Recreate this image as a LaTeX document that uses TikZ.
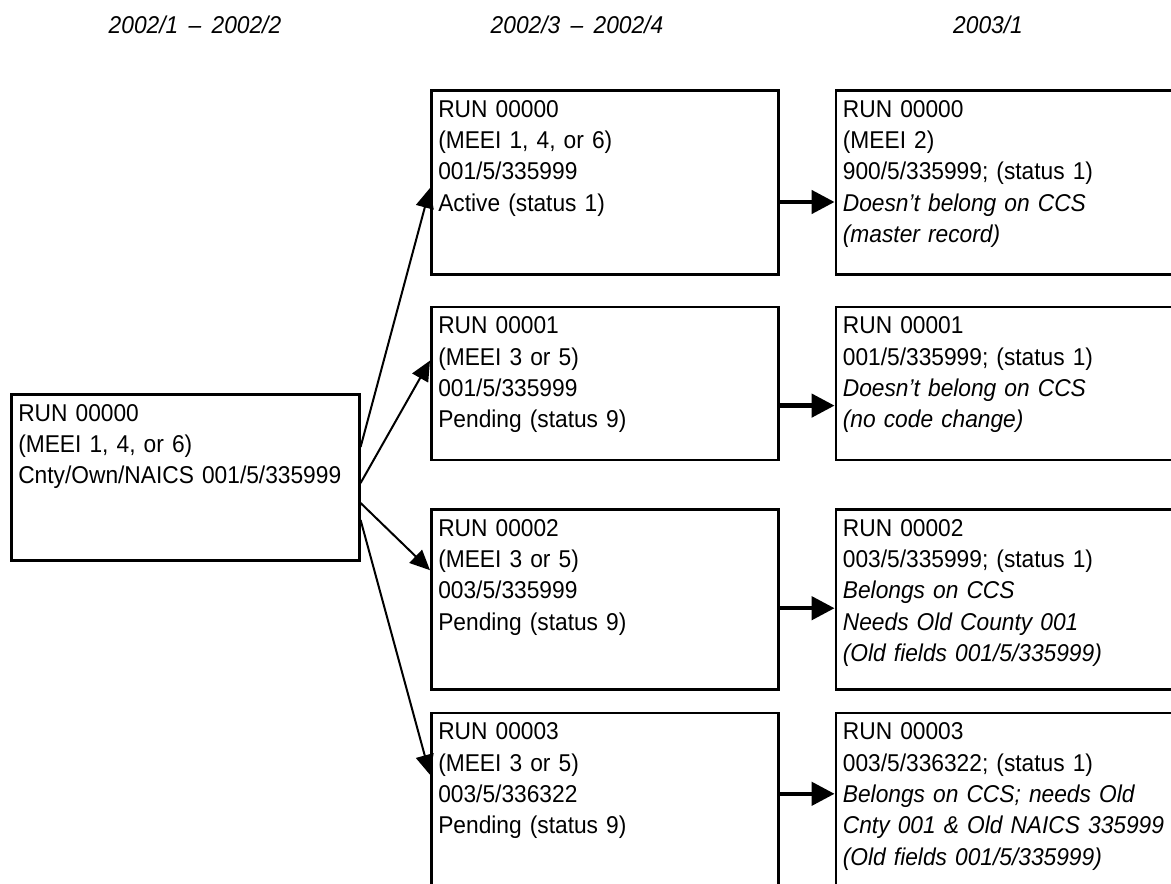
\documentclass[tikz,border=0pt]{standalone}
\usepackage{fontspec}
\setmainfont[FakeStretch=0.936]{Liberation Sans}
\usetikzlibrary{positioning,arrows.meta}

\begin{document}
\begin{tikzpicture}[x=1pt, y=-1pt,
          every node/.style={font=\fontsize{24.3pt}{31.3pt}\selectfont},
          runbox/.style={draw, line width=2.6pt, anchor=north west, align=left,
                         text width=333pt, inner xsep=7pt, inner ysep=0pt,
                         text height=26.8pt, text depth=#1-26.8pt},
          period/.style={font=\fontsize{24.3pt}{31.3pt}\selectfont\itshape},
          fanarr/.style={-{Triangle[length=20pt, width=18pt]}, line width=2pt},
          steparr/.style={-{Triangle[length=23pt, width=23pt]}, line width=4.5pt}]
          \useasboundingbox (0,0) rectangle (1171,884);
          \node[period] (p1) at (195,25) {2002/1 \,--\, 2002/2};
          \node[period] (p2) at (577,25) {2002/3 \,--\, 2002/4};
          \node[period] (p3) at (988,25) {2003/1};
          \node[runbox=166pt, text width=334pt] (r0) at (10,393)
            {RUN 00000\\(MEEI 1, 4, or 6)\\Cnty/Own/NAICS 001/5/335999};
          \node[runbox=184pt] (m1) at (430,89)
            {RUN 00000\\(MEEI 1, 4, or 6)\\001/5/335999\\Active (status 1)};
          \node[runbox=153pt, below=30pt of m1] (m2)
            {RUN 00001\\(MEEI 3 or 5)\\001/5/335999\\Pending (status 9)};
          \node[runbox=180pt, below=47pt of m2] (m3)
            {RUN 00002\\(MEEI 3 or 5)\\003/5/335999\\Pending (status 9)};
          \node[runbox=200pt, below=21pt of m3] (m4)
            {RUN 00003\\(MEEI 3 or 5)\\003/5/336322\\Pending (status 9)};
          \node[runbox=184pt, right=55pt of m1] (n1)
            {RUN 00000\\(MEEI 2)\\900/5/335999; (status 1)\\\textit{Doesn't belong on CCS}\\\textit{(master record)}};
          \node[runbox=153pt, right=55pt of m2] (n2)
            {RUN 00001\\001/5/335999; (status 1)\\\textit{Doesn't belong on CCS}\\\textit{(no code change)}};
          \node[runbox=180pt, right=55pt of m3] (n3)
            {RUN 00002\\003/5/335999; (status 1)\\\textit{Belongs on CCS}\\\textit{Needs Old County 001}\\\textit{(Old fields 001/5/335999)}};
          \node[runbox=200pt, right=55pt of m4] (n4)
            {RUN 00003\\003/5/336322; (status 1)\\\textit{Belongs on CCS; needs Old}\\\textit{Cnty 001 \& Old NAICS 335999}\\\textit{(Old fields 001/5/335999)}};
          \draw[fanarr] ([yshift=-54pt]r0.north east) -- ([yshift=-99pt]m1.north west);
          \draw[fanarr] ([yshift=-90pt]r0.north east) -- ([yshift=-55pt]m2.north west);
          \draw[fanarr] ([yshift=-110pt]r0.north east) -- ([yshift=-62pt]m3.north west);
          \draw[fanarr] ([yshift=-127pt]r0.north east) -- ([yshift=-63pt]m4.north west);
          \draw[steparr] ([yshift=-113pt]m1.north east) -- ([yshift=-113pt]n1.north west);
          \draw[steparr] ([yshift=-100pt]m2.north east) -- ([yshift=-100pt]n2.north west);
          \draw[steparr] ([yshift=-100pt]m3.north east) -- ([yshift=-100pt]n3.north west);
          \draw[steparr] ([yshift=-82pt]m4.north east) -- ([yshift=-82pt]n4.north west);
        \end{tikzpicture}
\end{document}
